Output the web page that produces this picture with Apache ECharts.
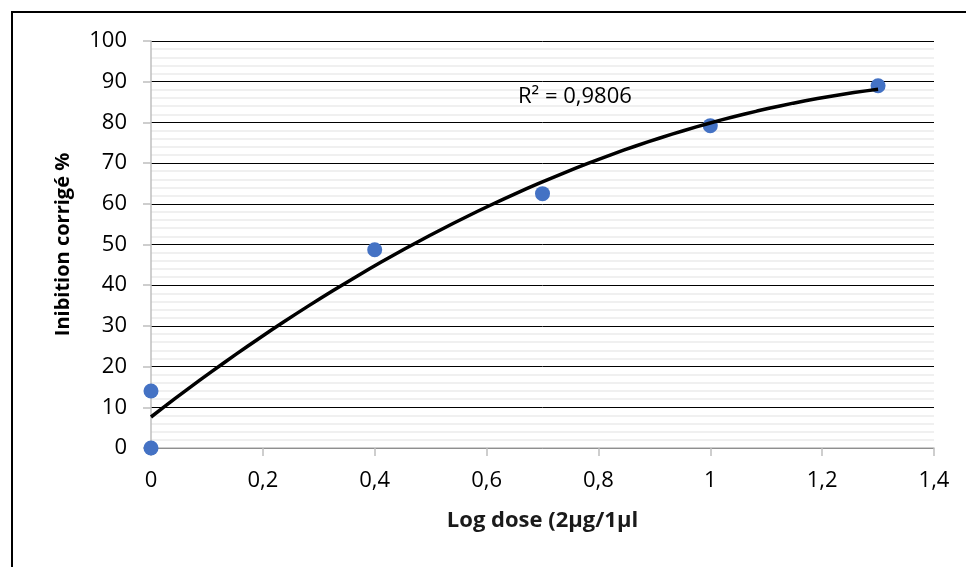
<!DOCTYPE html>
<html lang="fr">
<head>
    <meta charset="UTF-8">
    <title>inhibition vs log dose</title>
    <script src="https://cdn.jsdelivr.net/npm/echarts@6/dist/echarts.min.js"></script>
    <style>
        html, body { margin: 0; padding: 0; background: #fff; }
        #main { width: 966px; height: 567px; }
    </style>
</head>
<body>
<div id="main"></div>
<script>
    // points
    var logDose = [0, 0, 0.4, 0.7, 1, 1.3];
    var inhibition = [0, 14, 48.7, 62.5, 79.2, 89];
    var r2Label = 'R² = 0,9806';
    var xName = 'Log dose (2µg/1µl';
    var yName = 'Inibition corrigé %';

    var FONT = '"Open Sans", sans-serif';

    // polynomial (order 2) trendline, least squares on the points above
    function polyFit2(xs, ys) {
        var s = [0, 0, 0, 0, 0], t = [0, 0, 0];
        for (var i = 0; i < xs.length; i++) {
            var p = 1;
            for (var k = 0; k < 5; k++) {
                s[k] += p;
                if (k < 3) t[k] += p * ys[i];
                p *= xs[i];
            }
        }
        var m = [[s[0], s[1], s[2], t[0]], [s[1], s[2], s[3], t[1]], [s[2], s[3], s[4], t[2]]];
        for (var c = 0; c < 3; c++) {
            for (var r = c + 1; r < 3; r++) {
                var f = m[r][c] / m[c][c];
                for (var j = c; j < 4; j++) m[r][j] -= f * m[c][j];
            }
        }
        var b = [0, 0, 0];
        for (var r2 = 2; r2 >= 0; r2--) {
            var v = m[r2][3];
            for (var j2 = r2 + 1; j2 < 3; j2++) v -= m[r2][j2] * b[j2];
            b[r2] = v / m[r2][r2];
        }
        return b;
    }

    var coef = polyFit2(logDose, inhibition);
    var xMin = Math.min.apply(null, logDose), xMax = Math.max.apply(null, logDose);
    var trend = [];
    for (var i = 0; i <= 60; i++) {
        var x = xMin + (xMax - xMin) * i / 60;
        trend.push([x, coef[0] + coef[1] * x + coef[2] * x * x]);
    }

    var points = logDose.map(function (x, i) { return [x, inhibition[i]]; });

    var myChart = echarts.init(document.getElementById('main'));

    var option = {
        animation: false,
        grid: { left: 151, right: 32, top: 41, bottom: 119 },
        xAxis: {
            type: 'value',
            min: 0, max: 1.4, interval: 0.2,
            name: xName,
            nameLocation: 'middle',
            nameGap: 62,
            nameTextStyle: { fontFamily: FONT, fontSize: 22, fontWeight: 'bold', color: '#1a1a1a' },
            axisLine: { show: true, lineStyle: { color: '#bfbfbf', width: 1.5 } },
            axisTick: { show: true, length: 8, lineStyle: { color: '#bfbfbf', width: 1.5 } },
            axisLabel: {
                margin: 22,
                fontFamily: FONT, fontSize: 22, color: '#000',
                formatter: function (v) { return String(+v.toFixed(1)).replace('.', ','); }
            },
            splitLine: { show: false }
        },
        yAxis: {
            type: 'value',
            min: 0, max: 100, interval: 10,
            name: yName,
            nameLocation: 'middle',
            nameGap: 78,
            nameRotate: 90,
            nameTextStyle: { fontFamily: FONT, fontSize: 20, fontWeight: 'bold', color: '#000' },
            axisLine: { show: true, lineStyle: { color: '#bfbfbf', width: 1.5 } },
            axisTick: { show: true, length: 8, lineStyle: { color: '#bfbfbf', width: 1.5 } },
            axisLabel: { margin: 24, fontFamily: FONT, fontSize: 22, color: '#000' },
            splitLine: { show: true, lineStyle: { color: '#000', width: 1 } },
            minorTick: { show: false, splitNumber: 5 },
            minorSplitLine: { show: true, lineStyle: { color: '#ececec', width: 1.5 } }
        },
        series: [
            {
                name: 'trend',
                type: 'line',
                data: trend,
                showSymbol: false,
                smooth: false,
                lineStyle: { color: '#000', width: 3.5 },
                z: 3
            },
            {
                name: 'points',
                type: 'scatter',
                data: points,
                symbolSize: 15,
                itemStyle: { color: '#4472c4', opacity: 1 },
                z: 2
            }
        ],
        graphic: [
            {
                type: 'rect',
                shape: { x: 12, y: 12, width: 1000, height: 1000 },
                style: { fill: 'none', stroke: '#000', lineWidth: 2 },
                silent: true
            },
            {
                type: 'text',
                left: 518, top: 86,
                style: { text: r2Label, fontFamily: FONT, fontSize: 22, fill: '#000' },
                z: 10
            }
        ]
    };

    myChart.setOption(option);
</script>
</body>
</html>
